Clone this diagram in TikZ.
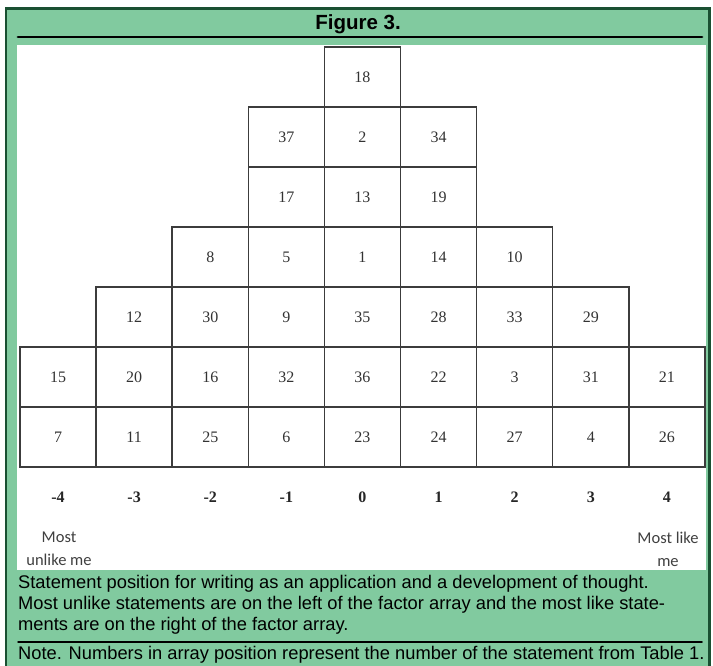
\documentclass[tikz,border=0pt]{standalone}
\usepackage{fontspec}
\setmainfont{Liberation Serif}
\newfontfamily\capfont{Liberation Sans}
\newfontfamily\endfont{Carlito}
\usepackage{xcolor}

\definecolor{boxgreen}{RGB}{129,202,159}
\definecolor{framegreen}{RGB}{26,80,50}
\definecolor{cellline}{RGB}{60,60,60}

\begin{document}
\begin{tikzpicture}[x=1pt,y=-1pt,line cap=round,
  cell/.style={draw=cellline,line width=1.5pt,minimum width=76.1pt,minimum height=60pt,
    inner sep=0pt,text=black!80,font=\fontsize{16}{16}\selectfont},
  rank/.style={text=black!85,font=\bfseries\fontsize{16}{16}\selectfont},
  endlabel/.style={align=center,text=black!75,font=\endfont\fontsize{16.5}{23}\selectfont},
  captext/.style={anchor=base west,inner sep=0pt,align=left,
    font=\capfont\fontsize{18.3}{21.2}\selectfont}]
\useasboundingbox (0,0) rectangle (713,665);
% panel
\draw[framegreen,line width=2.5pt,fill=boxgreen] (6,8.5) rectangle (709.5,690);
\node[font=\capfont\bfseries\fontsize{20.5}{20.5}\selectfont] (title) at (358,24.5) {Figure 3.};
\draw[line width=2.8pt] (18,37) -- (702,37);
\fill[white] (17,44.5) rectangle (705.5,570);
% factor array
\foreach \row/\first/\vals in {1/0/{18},2/-1/{37,2,34},3/-1/{17,13,19},
    4/-2/{8,5,1,14,10},5/-3/{12,30,9,35,28,33,29},
    6/-4/{15,20,16,32,36,22,3,31,21},7/-4/{7,11,25,6,23,24,27,4,26}}
  \foreach \v [count=\k from \first] in \vals
    \node[cell] (c\row\k) at ({58.05+76.1*(\k+4)},{17+60*\row}) {\v};
\foreach \k in {-4,...,4}
  \node[rank] (r\k) at ({58.05+76.1*(\k+4)},497) {\k};
\node[endlabel] (unlike) at (59,549) {Most\\unlike me};
\node[endlabel] (like) at (668,549) {Most like\\me};
% caption (anchored on its last line)
\node[captext] (cap) at (18,630.4) {Statement position for writing as an application and a development of thought.\\
  Most unlike statements are on the left of the factor array and the most like state-\\
  ments are on the right of the factor array.};
\draw[line width=1.5pt] (18,642) -- (702,642);
\node[captext] (note) at (18,659) {Note. Numbers in array position represent the number of the statement from Table 1.};
\end{tikzpicture}
\end{document}
